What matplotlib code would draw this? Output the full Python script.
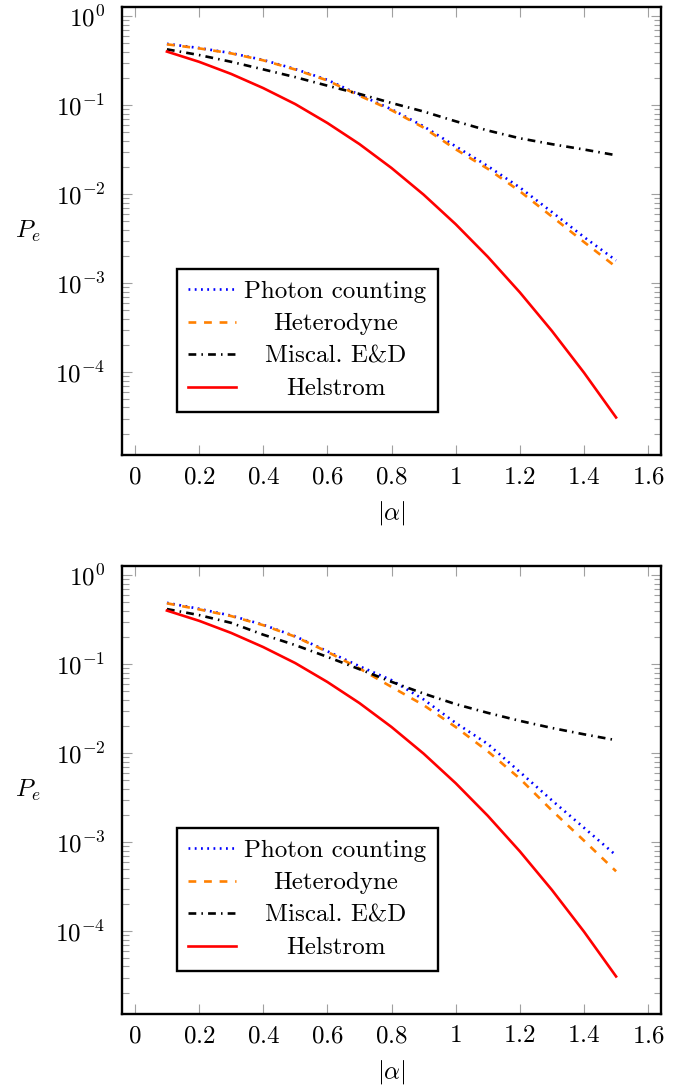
import numpy as np
import matplotlib
matplotlib.use("Agg")
import matplotlib.pyplot as plt
from matplotlib.ticker import FixedLocator, LogLocator, FuncFormatter, NullFormatter

plt.rcParams.update({
    "font.family": "serif",
    "font.serif": ["cmr10"],
    "mathtext.fontset": "cm",
    "axes.unicode_minus": False,
    "axes.formatter.use_mathtext": True,
    "lines.scale_dashes": False,
    "font.size": 18,
})

alpha = [0.1, 0.2, 0.3, 0.4, 0.5, 0.6, 0.7, 0.8, 0.9, 1.0, 1.1, 1.2, 1.3, 1.4, 1.5]

# Helstrom bound (same in both panels)
helstrom = [0.401, 0.308, 0.225, 0.156, 0.103, 0.0632, 0.0366, 0.0197, 0.00989,
            0.00460, 0.00198, 7.88e-4, 2.90e-4, 9.85e-5, 3.09e-5]

# upper panel
photon_top = [0.49, 0.44, 0.386, 0.323, 0.255, 0.193, 0.131, 0.090, 0.058,
              0.0345, 0.0207, 0.0119, 0.0063, 0.0033, 0.0018]
hetero_top = [0.484, 0.436, 0.383, 0.320, 0.252, 0.190, 0.128, 0.088, 0.056,
              0.032, 0.0193, 0.0108, 0.0056, 0.0029, 0.00152]
miscal_top = [0.425, 0.367, 0.308, 0.253, 0.207, 0.166, 0.134, 0.106, 0.085,
              0.066, 0.052, 0.0425, 0.0365, 0.0318, 0.0274]

# lower panel
photon_bot = [0.49, 0.42, 0.352, 0.278, 0.206, 0.140, 0.095, 0.0662, 0.0402,
              0.0219, 0.0127, 0.00615, 0.00295, 0.00145, 7.1e-4]
hetero_bot = [0.484, 0.414, 0.348, 0.275, 0.204, 0.138, 0.0897, 0.0556, 0.0347,
              0.0197, 0.0105, 0.00518, 0.00227, 0.00104, 4.7e-4]
miscal_bot = [0.417, 0.357, 0.292, 0.215, 0.164, 0.121, 0.088, 0.0634, 0.0468,
              0.0356, 0.0284, 0.0231, 0.0192, 0.0163, 0.0140]

labels = ["Photon counting", "Heterodyne", "Miscal. E&D", "Helstrom"]
xticks = [0, 0.2, 0.4, 0.6, 0.8, 1.0, 1.2, 1.4, 1.6]

styles = [
    dict(color="blue", dashes=(1.3, 3.2)),
    dict(color=(1.0, 0.5, 0.0), dashes=(5.6, 5.6)),
    dict(color="black", dashes=(5.6, 3.7, 1.1, 3.7)),
    dict(color="red"),
]


def panel(fig, rect, curves):
    ax = fig.add_axes(rect)
    ax.set_yscale("log")
    for y, lab, st in zip(curves, labels, styles):
        ax.plot(alpha, y, lw=1.9, label=lab, dash_capstyle="butt", **st)

    ax.set_xlim(-0.04, 1.64)
    ax.set_ylim(10 ** -4.935, 10 ** 0.105)

    ax.xaxis.set_major_locator(FixedLocator(xticks))
    ax.xaxis.set_major_formatter(FuncFormatter(lambda v, p: f"${v:g}$"))
    ax.yaxis.set_major_locator(LogLocator(base=10, numticks=10))
    ax.yaxis.set_minor_locator(LogLocator(base=10, subs=range(2, 10), numticks=50))
    ax.yaxis.set_minor_formatter(NullFormatter())
    ax.yaxis.set_major_formatter(
        FuncFormatter(lambda v, p: f"$10^{{{int(round(np.log10(v)))}}}$"))

    ax.tick_params(which="both", direction="in", top=True, right=True,
                   color="#a0a0a0", width=0.8, labelcolor="black")
    ax.tick_params(which="major", length=7.5)
    ax.tick_params(which="minor", length=4.8)
    ax.tick_params(axis="x", pad=8)
    ax.tick_params(axis="y", pad=12)
    for sp in ax.spines.values():
        sp.set_linewidth(1.7)
        sp.set_color("black")

    ax.set_ylabel("$P_e$", rotation=0, ha="center", va="center")
    ax.yaxis.set_label_coords(-0.174, 0.5)
    ax.set_xlabel(r"$|\alpha|$", va="center")
    ax.xaxis.set_label_coords(0.5, -0.129)

    leg = ax.legend(loc="upper left", bbox_to_anchor=(0.102, 0.415),
                    borderaxespad=0, fancybox=False, framealpha=1,
                    edgecolor="black", handlelength=1.9, handletextpad=0.35,
                    labelspacing=0.4, borderpad=0.45)
    leg.get_frame().set_linewidth(1.7)
    return ax, leg


fig = plt.figure(figsize=(6.82, 10.85), dpi=100)
axes = [
    panel(fig, [0.1789, 0.5804, 0.7903, 0.4132], [photon_top, hetero_top, miscal_top, helstrom]),
    panel(fig, [0.1789, 0.0652, 0.7903, 0.4132], [photon_bot, hetero_bot, miscal_bot, helstrom]),
]

# centre the legend entries inside the box (offsets are in pixels)
renderer = fig.canvas.get_renderer()
for ax, leg in axes:
    texts = leg.get_texts()
    widths = [t.get_window_extent(renderer).width for t in texts]
    wmax = max(widths)
    for t, w in zip(texts, widths):
        t.set_position(((wmax - w) / 2, 0))

fig.savefig("out.png", dpi=100)
